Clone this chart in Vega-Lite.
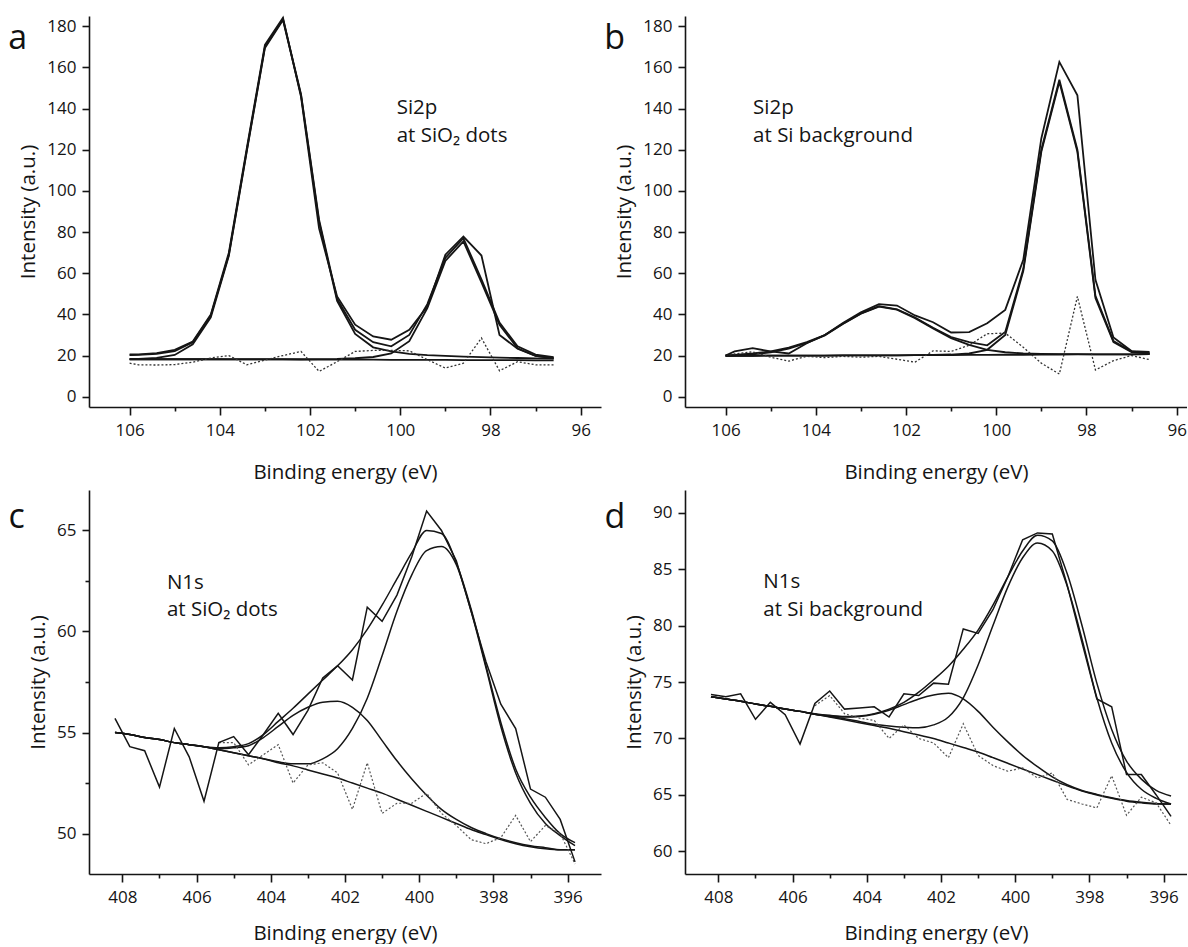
{
"$schema": "https://vega.github.io/schema/vega-lite/v6.json",
"padding": {"left": 8, "top": 14, "right": 0, "bottom": 0},
"config": {
  "view": {"stroke": null},
  "font": "Open Sans",
  "axis": {"grid": false, "domainColor": "#151515", "domainWidth": 1.6, "tickColor": "#151515", "tickWidth": 1.6, "labelFont": "Open Sans", "labelFontSize": 17, "labelColor": "#151515", "titleFont": "Open Sans", "titleFontSize": 20.5, "titleFontWeight": "normal", "titleColor": "#151515", "labelOverlap": false, "labelFlush": false},
  "axisX": {"labelPadding": 7},
  "axisY": {"labelPadding": 6, "titlePadding": 8}
},
"datasets": {
"a": [
{"e":106.0,"raw":20.5,"fit":20.2,"p1":18.3,"p2":18.2,"bg":18.2,"res":16.3},
{"e":105.8,"raw":20.6,"fit":20.3,"p1":18.4,"p2":18.2,"bg":18.2,"res":15.5},
{"e":105.4,"raw":21.2,"fit":20.8,"p1":18.9,"p2":18.2,"bg":18.2,"res":15.4},
{"e":105.0,"raw":22.8,"fit":22.2,"p1":20.3,"p2":18.2,"bg":18.2,"res":15.6},
{"e":104.6,"raw":26.8,"fit":26.5,"p1":25.5,"p2":18.2,"bg":18.2,"res":16.8},
{"e":104.2,"raw":40.0,"fit":39.5,"p1":38.5,"p2":18.2,"bg":18.2,"res":18.8},
{"e":103.8,"raw":70.0,"fit":69.0,"p1":68.5,"p2":18.2,"bg":18.1,"res":20.0},
{"e":103.4,"raw":121.0,"fit":120.0,"p1":119.5,"p2":18.2,"bg":18.1,"res":15.5},
{"e":103.0,"raw":171.0,"fit":170.0,"p1":169.5,"p2":18.2,"bg":18.1,"res":17.8},
{"e":102.6,"raw":184.2,"fit":183.5,"p1":183.0,"p2":18.2,"bg":18.1,"res":20.0},
{"e":102.2,"raw":145.7,"fit":147.0,"p1":146.5,"p2":18.2,"bg":18.0,"res":22.0},
{"e":101.8,"raw":81.8,"fit":86.0,"p1":85.0,"p2":18.3,"bg":18.0,"res":12.3},
{"e":101.4,"raw":48.7,"fit":47.5,"p1":46.5,"p2":18.4,"bg":18.0,"res":17.0},
{"e":101.0,"raw":35.0,"fit":32.5,"p1":30.5,"p2":18.7,"bg":18.0,"res":22.0},
{"e":100.6,"raw":29.3,"fit":26.5,"p1":24.0,"p2":19.3,"bg":18.0,"res":22.5},
{"e":100.2,"raw":27.7,"fit":24.5,"p1":22.0,"p2":21.0,"bg":17.9,"res":22.5},
{"e":99.8,"raw":32.5,"fit":30.0,"p1":20.8,"p2":27.0,"bg":17.9,"res":22.3},
{"e":99.4,"raw":43.8,"fit":45.0,"p1":20.2,"p2":43.0,"bg":17.9,"res":18.0},
{"e":99.0,"raw":69.0,"fit":67.5,"p1":19.8,"p2":66.0,"bg":17.9,"res":13.9},
{"e":98.6,"raw":77.8,"fit":77.0,"p1":19.5,"p2":75.5,"bg":17.8,"res":16.3},
{"e":98.2,"raw":68.6,"fit":57.0,"p1":19.2,"p2":55.5,"bg":17.8,"res":28.5},
{"e":97.8,"raw":30.0,"fit":36.0,"p1":19.0,"p2":35.0,"bg":17.8,"res":12.6},
{"e":97.4,"raw":23.3,"fit":24.5,"p1":18.8,"p2":23.5,"bg":17.8,"res":17.0},
{"e":97.0,"raw":19.8,"fit":20.5,"p1":18.6,"p2":19.8,"bg":17.7,"res":15.5},
{"e":96.6,"raw":18.8,"fit":19.2,"p1":18.5,"p2":18.6,"bg":17.7,"res":15.5}
],
"b": [
{"e":106.0,"raw":20.0,"fit":20.0,"p1":19.9,"p2":19.9,"bg":19.9,"res":20.0},
{"e":105.8,"raw":22.0,"fit":20.3,"p1":20.1,"p2":19.9,"bg":19.9,"res":20.8},
{"e":105.4,"raw":23.6,"fit":21.0,"p1":20.6,"p2":19.9,"bg":19.9,"res":21.8},
{"e":105.0,"raw":22.0,"fit":22.0,"p1":21.6,"p2":20.0,"bg":20.0,"res":19.2},
{"e":104.6,"raw":21.0,"fit":23.8,"p1":23.4,"p2":20.0,"bg":20.0,"res":17.3},
{"e":104.2,"raw":26.0,"fit":26.5,"p1":26.2,"p2":20.0,"bg":20.0,"res":19.6},
{"e":103.8,"raw":30.0,"fit":30.0,"p1":29.8,"p2":20.0,"bg":20.0,"res":19.0},
{"e":103.4,"raw":35.8,"fit":35.5,"p1":35.3,"p2":20.1,"bg":20.1,"res":19.6},
{"e":103.0,"raw":41.0,"fit":40.5,"p1":40.3,"p2":20.1,"bg":20.1,"res":19.2},
{"e":102.6,"raw":45.0,"fit":44.0,"p1":43.8,"p2":20.1,"bg":20.1,"res":19.6},
{"e":102.2,"raw":44.3,"fit":42.5,"p1":42.3,"p2":20.1,"bg":20.1,"res":18.2},
{"e":101.8,"raw":39.5,"fit":38.5,"p1":38.2,"p2":20.2,"bg":20.2,"res":16.8},
{"e":101.4,"raw":36.2,"fit":33.5,"p1":33.2,"p2":20.3,"bg":20.2,"res":22.3},
{"e":101.0,"raw":31.2,"fit":29.0,"p1":28.5,"p2":20.5,"bg":20.2,"res":22.0},
{"e":100.6,"raw":31.4,"fit":26.5,"p1":25.2,"p2":21.0,"bg":20.3,"res":25.0},
{"e":100.2,"raw":35.7,"fit":25.0,"p1":22.8,"p2":22.8,"bg":20.3,"res":30.6},
{"e":99.8,"raw":42.2,"fit":31.5,"p1":21.6,"p2":30.0,"bg":20.4,"res":30.9},
{"e":99.4,"raw":66.5,"fit":62.0,"p1":21.0,"p2":61.0,"bg":20.4,"res":24.0},
{"e":99.0,"raw":125.5,"fit":120.0,"p1":20.8,"p2":119.0,"bg":20.5,"res":16.3},
{"e":98.6,"raw":162.7,"fit":154.0,"p1":20.7,"p2":153.0,"bg":20.5,"res":11.0},
{"e":98.2,"raw":146.5,"fit":120.0,"p1":20.7,"p2":119.0,"bg":20.6,"res":48.7},
{"e":97.8,"raw":56.8,"fit":49.0,"p1":20.6,"p2":48.0,"bg":20.6,"res":13.0},
{"e":97.4,"raw":28.8,"fit":27.0,"p1":20.6,"p2":26.5,"bg":20.6,"res":17.5},
{"e":97.0,"raw":22.2,"fit":22.0,"p1":20.6,"p2":21.7,"bg":20.6,"res":20.0},
{"e":96.6,"raw":21.8,"fit":21.2,"p1":20.7,"p2":21.0,"bg":20.7,"res":18.0}
],
"c": [
{"e":408.2,"raw":55.7,"fit":55.0,"p1":55.0,"p2":55.0,"bg":55.0,"res":null},
{"e":407.8,"raw":54.3,"fit":54.9,"p1":54.9,"p2":54.9,"bg":54.9,"res":null},
{"e":407.4,"raw":54.1,"fit":54.75,"p1":54.75,"p2":54.75,"bg":54.75,"res":null},
{"e":407.0,"raw":52.3,"fit":54.65,"p1":54.65,"p2":54.65,"bg":54.65,"res":null},
{"e":406.6,"raw":55.2,"fit":54.5,"p1":54.5,"p2":54.5,"bg":54.5,"res":null},
{"e":406.2,"raw":53.8,"fit":54.4,"p1":54.4,"p2":54.4,"bg":54.4,"res":null},
{"e":405.8,"raw":51.6,"fit":54.3,"p1":54.3,"p2":54.3,"bg":54.3,"res":null},
{"e":405.4,"raw":54.5,"fit":54.25,"p1":54.2,"p2":54.15,"bg":54.15,"res":54.5},
{"e":405.0,"raw":54.8,"fit":54.3,"p1":54.25,"p2":54.0,"bg":54.0,"res":54.5},
{"e":404.6,"raw":53.9,"fit":54.45,"p1":54.35,"p2":53.85,"bg":53.85,"res":53.4},
{"e":404.2,"raw":54.9,"fit":54.9,"p1":54.75,"p2":53.7,"bg":53.7,"res":53.9},
{"e":403.8,"raw":55.95,"fit":55.55,"p1":55.3,"p2":53.55,"bg":53.5,"res":54.4},
{"e":403.4,"raw":54.9,"fit":56.2,"p1":55.85,"p2":53.45,"bg":53.35,"res":52.5},
{"e":403.0,"raw":56.1,"fit":56.9,"p1":56.25,"p2":53.45,"bg":53.15,"res":53.4},
{"e":402.6,"raw":57.7,"fit":57.6,"p1":56.5,"p2":53.7,"bg":52.95,"res":53.5},
{"e":402.2,"raw":58.3,"fit":58.3,"p1":56.55,"p2":54.2,"bg":52.75,"res":53.0},
{"e":401.8,"raw":57.6,"fit":59.1,"p1":56.25,"p2":55.2,"bg":52.5,"res":51.2},
{"e":401.4,"raw":61.2,"fit":60.1,"p1":55.6,"p2":56.7,"bg":52.25,"res":53.5},
{"e":401.0,"raw":60.5,"fit":61.3,"p1":54.6,"p2":58.8,"bg":52.0,"res":51.0},
{"e":400.6,"raw":61.8,"fit":62.6,"p1":53.6,"p2":61.0,"bg":51.7,"res":51.5},
{"e":400.2,"raw":63.7,"fit":63.9,"p1":52.7,"p2":62.8,"bg":51.4,"res":51.5},
{"e":399.8,"raw":65.96,"fit":65.0,"p1":51.9,"p2":64.0,"bg":51.1,"res":52.0},
{"e":399.4,"raw":65.0,"fit":64.85,"p1":51.2,"p2":64.2,"bg":50.8,"res":51.0},
{"e":399.0,"raw":63.5,"fit":63.4,"p1":50.7,"p2":63.3,"bg":50.5,"res":50.4},
{"e":398.6,"raw":61.0,"fit":61.1,"p1":50.3,"p2":61.0,"bg":50.2,"res":49.7},
{"e":398.2,"raw":58.5,"fit":58.3,"p1":50.0,"p2":58.2,"bg":49.95,"res":49.5},
{"e":397.8,"raw":56.4,"fit":55.5,"p1":49.75,"p2":55.3,"bg":49.7,"res":49.8},
{"e":397.4,"raw":55.2,"fit":53.2,"p1":49.55,"p2":53.0,"bg":49.5,"res":50.9},
{"e":397.0,"raw":52.2,"fit":51.8,"p1":49.4,"p2":51.5,"bg":49.35,"res":49.6},
{"e":396.6,"raw":51.8,"fit":50.8,"p1":49.3,"p2":50.5,"bg":49.25,"res":50.4},
{"e":396.2,"raw":50.7,"fit":50.0,"p1":49.2,"p2":49.9,"bg":49.2,"res":50.0},
{"e":395.8,"raw":48.6,"fit":49.55,"p1":49.2,"p2":49.4,"bg":49.2,"res":48.5}
],
"d": [
{"e":408.2,"raw":73.9,"fit":73.7,"p1":73.7,"p2":73.7,"bg":73.7,"res":null},
{"e":407.8,"raw":73.7,"fit":73.5,"p1":73.5,"p2":73.5,"bg":73.5,"res":null},
{"e":407.4,"raw":73.95,"fit":73.3,"p1":73.3,"p2":73.3,"bg":73.3,"res":null},
{"e":407.0,"raw":71.7,"fit":73.05,"p1":73.05,"p2":73.05,"bg":73.05,"res":null},
{"e":406.6,"raw":73.2,"fit":72.85,"p1":72.85,"p2":72.85,"bg":72.85,"res":null},
{"e":406.2,"raw":72.1,"fit":72.6,"p1":72.6,"p2":72.6,"bg":72.6,"res":null},
{"e":405.8,"raw":69.5,"fit":72.4,"p1":72.4,"p2":72.4,"bg":72.4,"res":null},
{"e":405.4,"raw":73.1,"fit":72.2,"p1":72.15,"p2":72.15,"bg":72.15,"res":72.9},
{"e":405.0,"raw":74.2,"fit":72.05,"p1":72.0,"p2":71.95,"bg":71.9,"res":73.8},
{"e":404.6,"raw":72.6,"fit":71.95,"p1":71.9,"p2":71.75,"bg":71.65,"res":72.2},
{"e":404.2,"raw":72.7,"fit":72.0,"p1":71.95,"p2":71.5,"bg":71.4,"res":71.8},
{"e":403.8,"raw":72.8,"fit":72.2,"p1":72.15,"p2":71.25,"bg":71.15,"res":71.6},
{"e":403.4,"raw":71.9,"fit":72.6,"p1":72.5,"p2":71.1,"bg":70.9,"res":70.0},
{"e":403.0,"raw":73.96,"fit":73.2,"p1":73.0,"p2":71.0,"bg":70.6,"res":71.2},
{"e":402.6,"raw":73.8,"fit":74.1,"p1":73.5,"p2":70.95,"bg":70.3,"res":70.0},
{"e":402.2,"raw":74.9,"fit":75.2,"p1":73.85,"p2":71.2,"bg":70.0,"res":69.6},
{"e":401.8,"raw":74.8,"fit":76.4,"p1":74.0,"p2":71.9,"bg":69.6,"res":68.3},
{"e":401.4,"raw":79.7,"fit":77.9,"p1":73.5,"p2":73.6,"bg":69.2,"res":71.3},
{"e":401.0,"raw":79.3,"fit":79.6,"p1":72.4,"p2":76.5,"bg":68.8,"res":68.5},
{"e":400.6,"raw":81.4,"fit":81.8,"p1":71.0,"p2":80.0,"bg":68.3,"res":67.6},
{"e":400.2,"raw":84.3,"fit":84.3,"p1":69.7,"p2":83.4,"bg":67.8,"res":67.1},
{"e":399.8,"raw":87.6,"fit":86.6,"p1":68.5,"p2":86.0,"bg":67.3,"res":67.4},
{"e":399.4,"raw":88.2,"fit":88.0,"p1":67.5,"p2":87.3,"bg":66.8,"res":66.5},
{"e":399.0,"raw":88.1,"fit":87.5,"p1":66.6,"p2":86.6,"bg":66.3,"res":66.95},
{"e":398.6,"raw":83.6,"fit":84.6,"p1":65.9,"p2":83.5,"bg":65.8,"res":64.6},
{"e":398.2,"raw":78.5,"fit":80.0,"p1":65.4,"p2":78.8,"bg":65.35,"res":64.2},
{"e":397.8,"raw":73.5,"fit":74.9,"p1":65.05,"p2":73.6,"bg":65.0,"res":63.85},
{"e":397.4,"raw":72.8,"fit":70.8,"p1":64.75,"p2":69.6,"bg":64.7,"res":66.7},
{"e":397.0,"raw":66.8,"fit":68.0,"p1":64.5,"p2":67.0,"bg":64.45,"res":63.2},
{"e":396.6,"raw":66.8,"fit":66.4,"p1":64.35,"p2":65.5,"bg":64.3,"res":64.8},
{"e":396.2,"raw":65.0,"fit":65.4,"p1":64.25,"p2":64.7,"bg":64.2,"res":64.3},
{"e":395.8,"raw":63.1,"fit":64.9,"p1":64.2,"p2":64.2,"bg":64.2,"res":62.3}
]
},
"columns": 2,
"spacing": {"row": 83, "column": 84},
"bounds": "flush",
"concat": [
{
 "width": 512, "height": 391,
 "layer": [
  {"data": {"name": "a"},
   "encoding": {
    "x": {"field": "e", "type": "quantitative", "scale": {"domain": [106.9, 95.55], "nice": false, "zero": false},
     "axis": {"title": "Binding energy (eV)", "titlePadding": 24, "values": [96,97,98,99,100,101,102,103,104,105,106], "labelExpr": "datum.value % 2 === 0 ? datum.label : ''", "tickSize": {"condition": {"test": "datum.value % 2 !== 0", "value": 4}, "value": 8}}},
    "y": {"field": "value", "type": "quantitative", "scale": {"domain": [-5, 185], "nice": false, "zero": false},
     "axis": {"title": "Intensity (a.u.)", "values": [0,10,20,30,40,50,60,70,80,90,100,110,120,130,140,150,160,170,180], "labelExpr": "datum.value % 20 === 0 ? datum.label : ''", "tickSize": {"condition": {"test": "datum.value % 20 !== 0", "value": 4}, "value": 7}}}
   },
   "layer": [
    {"transform": [{"fold": ["bg","p1","p2","fit"], "as": ["series","value"]}],
     "mark": {"type": "line", "color": "#151515", "strokeWidth": 1.8},
     "encoding": {"detail": {"field": "series"}, "order": {"field": "e", "sort": "descending"}}},
    {"transform": [{"fold": ["res"], "as": ["series","value"]}, {"filter": "datum.value != null"}],
     "mark": {"type": "line", "color": "#333333", "strokeWidth": 1.3, "strokeDash": [2,2]},
     "encoding": {"order": {"field": "e", "sort": "descending"}}},
    {"transform": [{"fold": ["raw"], "as": ["series","value"]}],
     "mark": {"type": "line", "color": "#151515", "strokeWidth": 1.8},
     "encoding": {"order": {"field": "e", "sort": "descending"}}}
   ]},
  {"data": {"values": [{"id": 1}]},
   "mark": {"type": "text", "text": "a", "fontSize": 34, "align": "center", "baseline": "alphabetic", "color": "#111111"},
   "encoding": {"x": {"datum": 108.48, "type": "quantitative"}, "y": {"datum": 169.2, "type": "quantitative"}}},
  {"data": {"values": [{"id": 1}]},
   "mark": {"type": "text", "text": ["Si2p", "at SiO₂ dots"], "fontSize": 20.5, "lineHeight": 28.3, "align": "left", "baseline": "middle", "color": "#151515"},
   "encoding": {"x": {"datum": 100.08, "type": "quantitative"}, "y": {"datum": 140.4, "type": "quantitative"}}}
 ]
},
{
 "width": 502, "height": 391,
 "layer": [
  {"data": {"name": "b"},
   "encoding": {
    "x": {"field": "e", "type": "quantitative", "scale": {"domain": [106.9, 95.77], "nice": false, "zero": false},
     "axis": {"title": "Binding energy (eV)", "titlePadding": 24, "values": [96,97,98,99,100,101,102,103,104,105,106], "labelExpr": "datum.value % 2 === 0 ? datum.label : ''", "tickSize": {"condition": {"test": "datum.value % 2 !== 0", "value": 4}, "value": 8}}},
    "y": {"field": "value", "type": "quantitative", "scale": {"domain": [-5, 185], "nice": false, "zero": false},
     "axis": {"title": "Intensity (a.u.)", "values": [0,10,20,30,40,50,60,70,80,90,100,110,120,130,140,150,160,170,180], "labelExpr": "datum.value % 20 === 0 ? datum.label : ''", "tickSize": {"condition": {"test": "datum.value % 20 !== 0", "value": 4}, "value": 7}}}
   },
   "layer": [
    {"transform": [{"fold": ["bg","p1","p2","fit"], "as": ["series","value"]}],
     "mark": {"type": "line", "color": "#151515", "strokeWidth": 1.8},
     "encoding": {"detail": {"field": "series"}, "order": {"field": "e", "sort": "descending"}}},
    {"transform": [{"fold": ["res"], "as": ["series","value"]}, {"filter": "datum.value != null"}],
     "mark": {"type": "line", "color": "#333333", "strokeWidth": 1.3, "strokeDash": [2,2]},
     "encoding": {"order": {"field": "e", "sort": "descending"}}},
    {"transform": [{"fold": ["raw"], "as": ["series","value"]}],
     "mark": {"type": "line", "color": "#151515", "strokeWidth": 1.8},
     "encoding": {"order": {"field": "e", "sort": "descending"}}}
   ]},
  {"data": {"values": [{"id": 1}]},
   "mark": {"type": "text", "text": "b", "fontSize": 34, "align": "center", "baseline": "alphabetic", "color": "#111111"},
   "encoding": {"x": {"datum": 108.46, "type": "quantitative"}, "y": {"datum": 169.2, "type": "quantitative"}}},
  {"data": {"values": [{"id": 1}]},
   "mark": {"type": "text", "text": ["Si2p", "at Si background"], "fontSize": 20.5, "lineHeight": 28.3, "align": "left", "baseline": "middle", "color": "#151515"},
   "encoding": {"x": {"datum": 105.39, "type": "quantitative"}, "y": {"datum": 140.4, "type": "quantitative"}}}
 ]
},
{
 "width": 512, "height": 384,
 "layer": [
  {"data": {"name": "c"},
   "encoding": {
    "x": {"field": "e", "type": "quantitative", "scale": {"domain": [408.9, 395.1], "nice": false, "zero": false},
     "axis": {"title": "Binding energy (eV)", "titlePadding": 18, "values": [396,397,398,399,400,401,402,403,404,405,406,407,408], "labelExpr": "datum.value % 2 === 0 ? datum.label : ''", "tickSize": {"condition": {"test": "datum.value % 2 !== 0", "value": 4}, "value": 8}}},
    "y": {"field": "value", "type": "quantitative", "scale": {"domain": [48, 67], "nice": false, "zero": false},
     "axis": {"title": "Intensity (a.u.)", "values": [50,52.5,55,57.5,60,62.5,65], "labelExpr": "datum.value % 5 === 0 ? datum.label : ''", "tickSize": {"condition": {"test": "datum.value % 5 !== 0", "value": 4}, "value": 7}}}
   },
   "layer": [
    {"transform": [{"fold": ["bg","p1","p2","fit"], "as": ["series","value"]}],
     "mark": {"type": "line", "color": "#151515", "strokeWidth": 1.5, "interpolate": "monotone"},
     "encoding": {"detail": {"field": "series"}, "order": {"field": "e", "sort": "descending"}}},
    {"transform": [{"fold": ["res"], "as": ["series","value"]}, {"filter": "datum.value != null"}],
     "mark": {"type": "line", "color": "#555555", "strokeWidth": 1.2, "strokeDash": [2,2]},
     "encoding": {"order": {"field": "e", "sort": "descending"}}},
    {"transform": [{"fold": ["raw"], "as": ["series","value"]}],
     "mark": {"type": "line", "color": "#151515", "strokeWidth": 1.5},
     "encoding": {"order": {"field": "e", "sort": "descending"}}}
   ]},
  {"data": {"values": [{"id": 1}]},
   "mark": {"type": "text", "text": "c", "fontSize": 34, "align": "center", "baseline": "alphabetic", "color": "#111111"},
   "encoding": {"x": {"datum": 410.85, "type": "quantitative"}, "y": {"datum": 65.12, "type": "quantitative"}}},
  {"data": {"values": [{"id": 1}]},
   "mark": {"type": "text", "text": ["N1s", "at SiO₂ dots"], "fontSize": 20.5, "lineHeight": 27.3, "align": "left", "baseline": "middle", "color": "#151515"},
   "encoding": {"x": {"datum": 406.8, "type": "quantitative"}, "y": {"datum": 62.42, "type": "quantitative"}}}
 ]
},
{
 "width": 502, "height": 384,
 "layer": [
  {"data": {"name": "d"},
   "encoding": {
    "x": {"field": "e", "type": "quantitative", "scale": {"domain": [408.9, 395.37], "nice": false, "zero": false},
     "axis": {"title": "Binding energy (eV)", "titlePadding": 18, "values": [396,397,398,399,400,401,402,403,404,405,406,407,408], "labelExpr": "datum.value % 2 === 0 ? datum.label : ''", "tickSize": {"condition": {"test": "datum.value % 2 !== 0", "value": 4}, "value": 8}}},
    "y": {"field": "value", "type": "quantitative", "scale": {"domain": [58, 92], "nice": false, "zero": false},
     "axis": {"title": "Intensity (a.u.)", "values": [60,62.5,65,67.5,70,72.5,75,77.5,80,82.5,85,87.5,90], "labelExpr": "datum.value % 5 === 0 ? datum.label : ''", "tickSize": {"condition": {"test": "datum.value % 5 !== 0", "value": 4}, "value": 7}}}
   },
   "layer": [
    {"transform": [{"fold": ["bg","p1","p2","fit"], "as": ["series","value"]}],
     "mark": {"type": "line", "color": "#151515", "strokeWidth": 1.5, "interpolate": "monotone"},
     "encoding": {"detail": {"field": "series"}, "order": {"field": "e", "sort": "descending"}}},
    {"transform": [{"fold": ["res"], "as": ["series","value"]}, {"filter": "datum.value != null"}],
     "mark": {"type": "line", "color": "#555555", "strokeWidth": 1.2, "strokeDash": [2,2]},
     "encoding": {"order": {"field": "e", "sort": "descending"}}},
    {"transform": [{"fold": ["raw"], "as": ["series","value"]}],
     "mark": {"type": "line", "color": "#151515", "strokeWidth": 1.5},
     "encoding": {"order": {"field": "e", "sort": "descending"}}}
   ]},
  {"data": {"values": [{"id": 1}]},
   "mark": {"type": "text", "text": "d", "fontSize": 34, "align": "center", "baseline": "alphabetic", "color": "#111111"},
   "encoding": {"x": {"datum": 410.79, "type": "quantitative"}, "y": {"datum": 88.67, "type": "quantitative"}}},
  {"data": {"values": [{"id": 1}]},
   "mark": {"type": "text", "text": ["N1s", "at Si background"], "fontSize": 20.5, "lineHeight": 27.3, "align": "left", "baseline": "middle", "color": "#151515"},
   "encoding": {"x": {"datum": 406.79, "type": "quantitative"}, "y": {"datum": 83.83, "type": "quantitative"}}}
 ]
}
]
}
